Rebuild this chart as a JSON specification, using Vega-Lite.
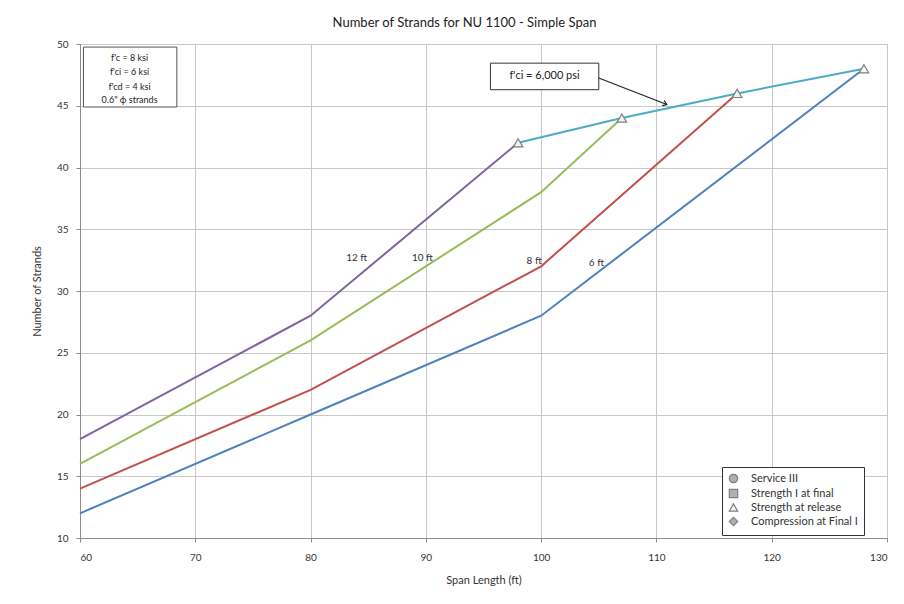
{
  "$schema": "https://vega.github.io/schema/vega-lite/v6.json",
  "width": 807,
  "height": 494,
  "autosize": "none",
  "padding": {"left": 80, "top": 44, "right": 17, "bottom": 66},
  "background": "white",
  "config": {
    "font": "Lato",
    "view": {"stroke": "#8c8c8c", "strokeWidth": 1},
    "axis": {"gridColor": "#c8c8c8", "gridWidth": 1, "domainColor": "#8c8c8c", "tickColor": "#8c8c8c", "labelColor": "#333", "titleColor": "#333", "labelFont": "Lato", "titleFont": "Lato", "labelFontSize": 10, "titleFontSize": 11, "titleFontWeight": "normal", "tickSize": 4}
  },
  "title": {"text": "Number of Strands for NU 1100 - Simple Span", "fontSize": 13, "fontWeight": "normal", "color": "#222", "font": "Lato", "offset": 9, "dx": -19},
  "datasets": {
    "lines": [
      {"series": "6 ft", "x": 60, "y": 12}, {"series": "6 ft", "x": 80, "y": 20}, {"series": "6 ft", "x": 100, "y": 28}, {"series": "6 ft", "x": 128, "y": 48},
      {"series": "8 ft", "x": 60, "y": 14}, {"series": "8 ft", "x": 80, "y": 22}, {"series": "8 ft", "x": 100, "y": 32}, {"series": "8 ft", "x": 117, "y": 46},
      {"series": "10 ft", "x": 60, "y": 16}, {"series": "10 ft", "x": 80, "y": 26}, {"series": "10 ft", "x": 100, "y": 38}, {"series": "10 ft", "x": 107, "y": 44},
      {"series": "12 ft", "x": 60, "y": 18}, {"series": "12 ft", "x": 80, "y": 28}, {"series": "12 ft", "x": 98, "y": 42},
      {"series": "f'ci", "x": 98, "y": 42}, {"series": "f'ci", "x": 107, "y": 44}, {"series": "f'ci", "x": 117, "y": 46}, {"series": "f'ci", "x": 128, "y": 48}
    ],
    "markers": [
      {"type": "Strength at release", "x": 98, "y": 42},
      {"type": "Strength at release", "x": 107, "y": 44},
      {"type": "Strength at release", "x": 117, "y": 46},
      {"type": "Strength at release", "x": 128, "y": 48}
    ],
    "labels": [
      {"label": "12 ft", "x": 84.0, "y": 32.7},
      {"label": "10 ft", "x": 89.7, "y": 32.7},
      {"label": "8 ft", "x": 99.4, "y": 32.4},
      {"label": "6 ft", "x": 104.8, "y": 32.3}
    ],
    "infobox": [{"x1": 60.3, "x2": 68.4, "y1": 49.75, "y2": 44.9}],
    "infotext": [
      {"t": "f'c = 8 ksi", "x": 64.3, "y": 48.85},
      {"t": "f'ci = 6 ksi", "x": 64.3, "y": 47.7},
      {"t": "f'cd = 4 ksi", "x": 64.3, "y": 46.55},
      {"t": "0.6\" ϕ strands", "x": 64.3, "y": 45.45}
    ],
    "fcibox": [{"x1": 95.6, "x2": 105.0, "y1": 48.45, "y2": 46.3, "t": "f'ci = 6,000 psi", "xc": 100.3, "yc": 47.37}],
    "arrow": [{"x": 105.0, "y": 47.25}, {"x": 110.9, "y": 45.1}],
    "arrowhead": [{"x": 110.9, "y": 45.1}]
  },
  "layer": [
    {
      "data": {"name": "infobox"},
      "mark": {"type": "rect", "fill": "white", "stroke": "#555", "strokeWidth": 1},
      "encoding": {
        "x": {"field": "x1", "type": "quantitative", "scale": {"domain": [60, 130], "nice": false, "zero": false},
              "axis": {"values": [60, 70, 80, 90, 100, 110, 120, 130], "title": "Span Length (ft)", "titlePadding": 12, "labelPadding": 10, "grid": true}},
        "x2": {"field": "x2"},
        "y": {"field": "y1", "type": "quantitative", "scale": {"domain": [10, 50], "nice": false, "zero": false},
              "axis": {"values": [10, 15, 20, 25, 30, 35, 40, 45, 50], "title": "Number of Strands", "titlePadding": 14, "labelPadding": 8, "grid": true}},
        "y2": {"field": "y2"}
      }
    },
    {
      "data": {"name": "infotext"},
      "mark": {"type": "text", "fontSize": 9, "color": "#222", "align": "center", "baseline": "middle"},
      "encoding": {
        "x": {"field": "x", "type": "quantitative"},
        "y": {"field": "y", "type": "quantitative"},
        "text": {"field": "t"}
      }
    },
    {
      "data": {"name": "lines"},
      "mark": {"type": "line", "strokeWidth": 2},
      "encoding": {
        "x": {"field": "x", "type": "quantitative"},
        "y": {"field": "y", "type": "quantitative"},
        "color": {"field": "series", "type": "nominal",
                  "scale": {"domain": ["6 ft", "8 ft", "10 ft", "12 ft", "f'ci"], "range": ["#4F81BD", "#C0504D", "#9BBB59", "#8064A2", "#4BACC6"]},
                  "legend": null},
        "detail": {"field": "series"}
      }
    },
    {
      "data": {"name": "markers"},
      "mark": {"type": "point", "filled": true, "stroke": "#7f7f7f", "strokeWidth": 1.2, "size": 90, "opacity": 1},
      "encoding": {
        "x": {"field": "x", "type": "quantitative"},
        "y": {"field": "y", "type": "quantitative"},
        "fill": {"field": "type", "type": "nominal",
                 "scale": {"domain": ["Service III", "Strength I at final", "Strength at release", "Compression at Final I"], "range": ["#b0b0b0", "#b0b0b0", "#f4f4f4", "#b0b0b0"]},
                 "legend": {"title": null, "orient": "none", "legendX": 642, "legendY": 423, "strokeColor": "#333", "fillColor": "white", "padding": 6, "labelFontSize": 11, "labelFont": "Lato", "labelColor": "#333", "symbolSize": 70, "symbolStrokeWidth": 1.2, "rowPadding": 0, "labelLimit": 200, "labelOffset": 12,
                            "encode": {"symbols": {"update": {"stroke": {"value": "#404040"}, "opacity": {"value": 1}}}}}},
        "shape": {"field": "type", "type": "nominal",
                  "scale": {"domain": ["Service III", "Strength I at final", "Strength at release", "Compression at Final I"], "range": ["circle", "square", "triangle-up", "diamond"]},
                  "legend": {"title": null, "orient": "none", "legendX": 642, "legendY": 423, "strokeColor": "#333", "fillColor": "white", "padding": 6, "labelFontSize": 11, "labelFont": "Lato", "labelColor": "#333", "symbolSize": 70, "symbolStrokeWidth": 1.2, "rowPadding": 0, "labelLimit": 200, "labelOffset": 12,
                             "encode": {"symbols": {"update": {"stroke": {"value": "#404040"}, "opacity": {"value": 1}}}}}}
      }
    },
    {
      "data": {"name": "labels"},
      "mark": {"type": "text", "fontSize": 10, "color": "#333", "align": "center", "baseline": "middle"},
      "encoding": {
        "x": {"field": "x", "type": "quantitative"},
        "y": {"field": "y", "type": "quantitative"},
        "text": {"field": "label"}
      }
    },
    {
      "data": {"name": "fcibox"},
      "mark": {"type": "rect", "fill": "white", "stroke": "#333", "strokeWidth": 1},
      "encoding": {
        "x": {"field": "x1", "type": "quantitative"},
        "x2": {"field": "x2"},
        "y": {"field": "y1", "type": "quantitative"},
        "y2": {"field": "y2"}
      }
    },
    {
      "data": {"name": "fcibox"},
      "mark": {"type": "text", "fontSize": 11, "color": "#222", "align": "center", "baseline": "middle"},
      "encoding": {
        "x": {"field": "xc", "type": "quantitative"},
        "y": {"field": "yc", "type": "quantitative"},
        "text": {"field": "t"}
      }
    },
    {
      "data": {"name": "arrow"},
      "mark": {"type": "line", "color": "#222", "strokeWidth": 1.2},
      "encoding": {
        "x": {"field": "x", "type": "quantitative"},
        "y": {"field": "y", "type": "quantitative"}
      }
    },
    {
      "data": {"name": "arrowhead"},
      "mark": {"type": "point", "shape": "M-1,-0.7L0,0L-1,0.7", "filled": false, "stroke": "#222", "strokeWidth": 1.2, "size": 60, "angle": 21, "opacity": 1},
      "encoding": {
        "x": {"field": "x", "type": "quantitative"},
        "y": {"field": "y", "type": "quantitative"}
      }
    }
  ]
}
